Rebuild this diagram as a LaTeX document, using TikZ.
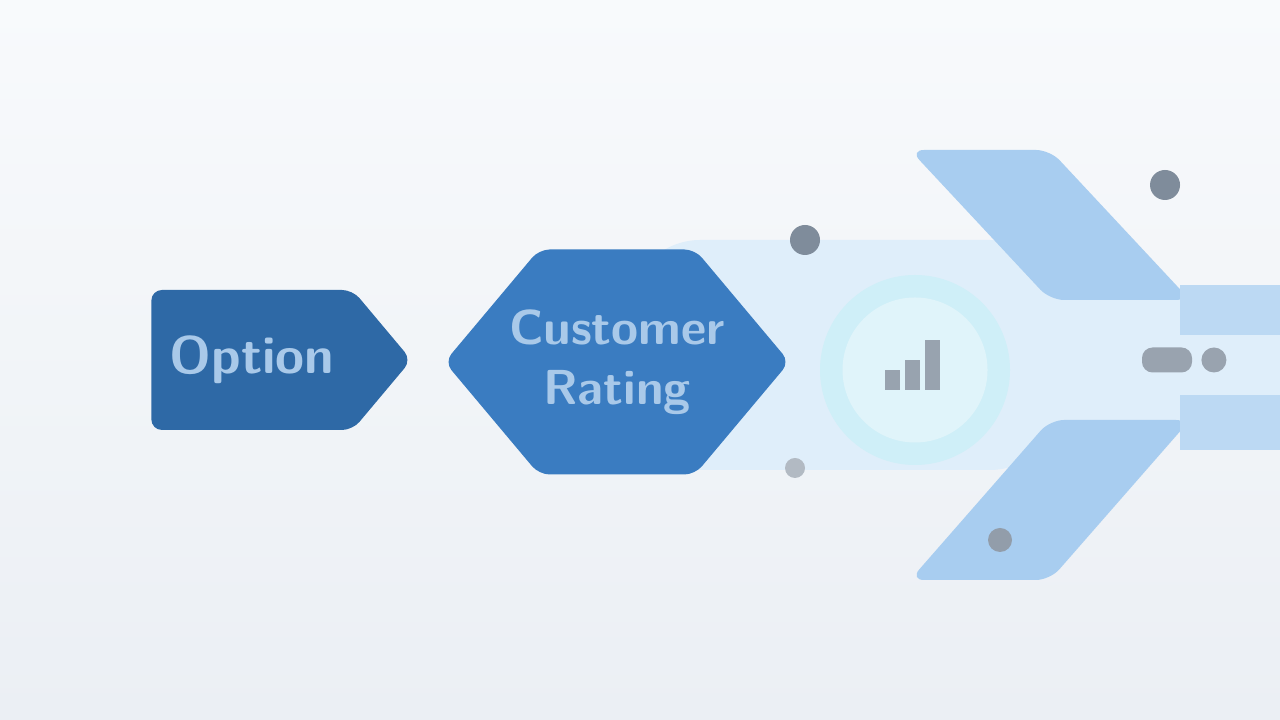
\documentclass[tikz,border=0pt]{standalone}
\usepackage{tikz}
\usetikzlibrary{shapes.symbols,positioning}

\definecolor{bgtop}{HTML}{F8FAFC}
\definecolor{bgbot}{HTML}{EBEFF4}
\definecolor{darkblue}{HTML}{2E69A6}
\definecolor{midblue}{HTML}{3A7CC1}
\definecolor{pale}{HTML}{DFEEFA}
\definecolor{band}{HTML}{A8CDF0}
\definecolor{bandlight}{HTML}{BCD9F3}
\definecolor{cyanring}{HTML}{CFEFF8}
\definecolor{cyaninner}{HTML}{E0F4FA}
\definecolor{dotgray}{HTML}{7F8C9B}
\definecolor{labelblue}{HTML}{A9C9E9}

\tikzset{
  stage/.style={signal, draw=none, rounded corners=3pt, align=center,
    text=labelblue, font=\sffamily\bfseries\fontsize{14}{17}\selectfont},
  dot/.style={circle, fill=dotgray, inner sep=0pt},
}

\begin{document}
\begin{tikzpicture}
  \useasboundingbox (0,0) rectangle (12.8,7.2);
  % background
  \shade[top color=bgtop, bottom color=bgbot] (0,0) rectangle (12.8,7.2);

  % glow band behind the flow
  \fill[pale, rounded corners=20pt] (6.3,2.5) rectangle (10.6,4.8);
  \fill[pale] (10.0,2.95) rectangle (12.8,4.25);

  % slanted bands
  \fill[band, rounded corners=4pt] (9.1,5.7) -- (10.5,5.7) -- (11.9,4.2) -- (10.5,4.2) -- cycle;
  \fill[band, rounded corners=4pt] (9.1,1.4) -- (10.5,1.4) -- (11.9,3.0) -- (10.5,3.0) -- cycle;
  \fill[bandlight] (11.8,3.85) rectangle (12.8,4.35);
  \fill[bandlight] (11.8,2.7) rectangle (12.8,3.25);

  % circle with chart icon
  \node (ring) [circle, fill=cyanring, minimum size=1.9cm] at (9.15,3.5) {};
  \node (core) [circle, fill=cyaninner, minimum size=1.45cm] at (ring.center) {};
  \fill[dotgray!80] ([shift={(-0.3,-0.2)}]core.center) rectangle ++(0.15,0.2);
  \fill[dotgray!80] ([shift={(-0.1,-0.2)}]core.center) rectangle ++(0.15,0.3);
  \fill[dotgray!80] ([shift={(0.1,-0.2)}]core.center) rectangle ++(0.15,0.5);

  % marks on the middle band
  \node (markA) [rounded corners=3pt, fill=dotgray!80, minimum width=0.5cm, minimum height=0.25cm, inner sep=0pt] at (11.67,3.6) {};
  \node (markB) [dot, fill=dotgray!80, minimum size=0.25cm, right=0.08cm of markA] {};

  % scattered dots
  \node (dotA) [dot, minimum size=0.3cm] at (8.05,4.8) {};
  \node (dotB) [dot, minimum size=0.3cm] at (11.65,5.35) {};
  \node (dotC) [dot, fill=dotgray!60, minimum size=0.2cm] at (7.95,2.52) {};
  \node (dotD) [dot, fill=dotgray!85, minimum size=0.24cm] at (10.0,1.8) {};

  % stages
  \node (option) [stage, fill=darkblue, signal to=east, signal pointer angle=100,
    minimum width=2.6cm, minimum height=1.4cm,
    font=\sffamily\bfseries\fontsize{15}{18}\selectfont] at (2.52,3.6) {Option};
  \node (rating) [stage, fill=midblue, signal to=east and west, signal pointer angle=100,
    inner xsep=-0.3cm, minimum height=2.25cm] at (6.17,3.58) {Customer\\Rating};
\end{tikzpicture}
\end{document}
